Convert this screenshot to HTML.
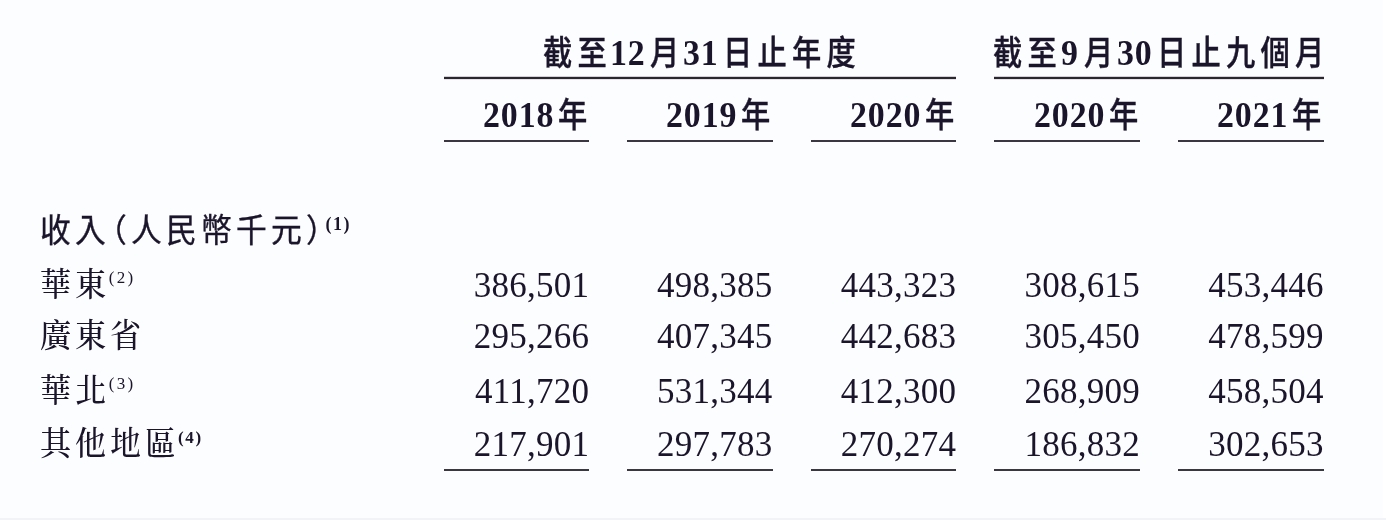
<!DOCTYPE html>
<html lang="zh-Hant"><head><meta charset="utf-8"><title>收入</title>
<style>
html,body{margin:0;padding:0}
body{width:1386px;height:520px;overflow:hidden;background:#fcfdff;position:relative;color:#1b152b}
.ln{position:absolute;filter:blur(0.25px)}
.t{position:absolute;white-space:nowrap;line-height:60px;height:60px;margin-top:-40px;transform-origin:0 0;filter:blur(0.45px)}
  .hc{font:500 34px/60px "Liberation Sans","Noto Sans CJK TC","Noto Sans CJK SC",sans-serif;transform:scaleX(0.86);letter-spacing:6.1px;margin-top:-44px;-webkit-text-stroke:0.4px #1b152b}
.hd{font:bold 36px/60px "Liberation Serif",serif;margin-top:-43.5px;transform:scaleX(0.94);letter-spacing:1px}
.lh{font:400 32.4px/60px "Liberation Sans","Noto Sans CJK TC","Noto Sans CJK SC",sans-serif;transform:scaleX(0.95);letter-spacing:4.45px;margin-top:-44px;-webkit-text-stroke:0.35px #1b152b}
.lc{font:500 33.5px/60px "Liberation Serif","Noto Serif CJK TC","Noto Serif CJK SC",serif;transform:scaleX(0.93);letter-spacing:4.1px;margin-top:-40.8px}
.n{font:400 35px/60px "Liberation Serif",serif;letter-spacing:0.25px}
.sup{font:400 17px/60px "Liberation Serif",serif;letter-spacing:2.3px;margin-top:-48.3px}
.supb{font:bold 18px/60px "Liberation Serif",serif;letter-spacing:1.5px;margin-top:-51px}
</style></head>
<body>
<span class="t hc" style="left:542.50px;top:66.50px;">截至</span>
<span class="t hd" style="left:609.75px;top:66.50px;">12</span>
<span class="t hc" style="left:650.30px;top:66.50px;">月</span>
<span class="t hd" style="left:682.75px;top:66.50px;">31</span>
<span class="t hc" style="left:723.00px;top:66.50px;">日止年度</span>
<span class="t hc" style="left:993.20px;top:66.50px;">截至</span>
<span class="t hd" style="left:1060.50px;top:66.50px;">9</span>
<span class="t hc" style="left:1084.00px;top:66.50px;">月</span>
<span class="t hd" style="left:1116.50px;top:66.50px;">30</span>
<span class="t hc" style="left:1156.80px;top:66.50px;">日止九個月</span>
<div class="ln" style="left:443.50px;top:76.00px;width:512.80px;height:4px;background:linear-gradient(rgba(43,38,48,.2) 0 25%,rgb(43,38,48) 25% 75%,rgba(43,38,48,.12) 75% 100%)"></div>
<div class="ln" style="left:994.20px;top:76.00px;width:329.60px;height:4px;background:linear-gradient(rgba(43,38,48,.2) 0 25%,rgb(43,38,48) 25% 75%,rgba(43,38,48,.12) 75% 100%)"></div>
<span class="t hd" style="right:827.30px;top:128.50px;">2018</span>
<span class="t hc" style="left:557.80px;top:128.50px;">年</span>
<div class="ln" style="left:443.50px;top:139.70px;width:145.70px;height:2px;background:#3b3742"></div>
<span class="t hd" style="right:643.90px;top:128.50px;">2019</span>
<span class="t hc" style="left:741.20px;top:128.50px;">年</span>
<div class="ln" style="left:627.20px;top:139.70px;width:145.40px;height:2px;background:#3b3742"></div>
<span class="t hd" style="right:460.20px;top:128.50px;">2020</span>
<span class="t hc" style="left:924.90px;top:128.50px;">年</span>
<div class="ln" style="left:810.50px;top:139.70px;width:145.80px;height:2px;background:#3b3742"></div>
<span class="t hd" style="right:276.50px;top:128.50px;">2020</span>
<span class="t hc" style="left:1108.60px;top:128.50px;">年</span>
<div class="ln" style="left:994.20px;top:139.70px;width:145.80px;height:2px;background:#3b3742"></div>
<span class="t hd" style="right:92.70px;top:128.50px;">2021</span>
<span class="t hc" style="left:1292.40px;top:128.50px;">年</span>
<div class="ln" style="left:1178.20px;top:139.70px;width:145.60px;height:2px;background:#3b3742"></div>
<span class="t lh" style="left:40.20px;top:244.50px;">收入</span>
<span class="t lh" style="left:95.50px;top:244.50px;">（</span>
<span class="t lh" style="left:131.00px;top:244.50px;">人民幣千元</span>
<span class="t lh" style="left:306.00px;top:244.50px;">）</span>
<span class="t supb" style="left:325.50px;top:244.50px;">(1)</span>
<span class="t lc" style="left:39.80px;top:296.00px;">華東</span>
<span class="t sup" style="left:108.80px;top:296.00px;">(2)</span>
<span class="t lc" style="left:39.80px;top:347.20px;">廣東省</span>
<span class="t lc" style="left:39.80px;top:402.20px;">華北</span>
<span class="t sup" style="left:108.80px;top:402.20px;">(3)</span>
<span class="t lc" style="left:39.80px;top:454.60px;">其他地區</span>
<span class="t sup" style="left:178.00px;top:454.60px;font-weight:bold;margin-top:-46.5px;letter-spacing:1.7px">(4)</span>
<span class="t n" style="right:796.80px;top:296.00px;">386,501</span>
<span class="t n" style="right:613.40px;top:296.00px;">498,385</span>
<span class="t n" style="right:429.70px;top:296.00px;">443,323</span>
<span class="t n" style="right:246.00px;top:296.00px;">308,615</span>
<span class="t n" style="right:62.20px;top:296.00px;">453,446</span>
<span class="t n" style="right:796.80px;top:347.20px;">295,266</span>
<span class="t n" style="right:613.40px;top:347.20px;">407,345</span>
<span class="t n" style="right:429.70px;top:347.20px;">442,683</span>
<span class="t n" style="right:246.00px;top:347.20px;">305,450</span>
<span class="t n" style="right:62.20px;top:347.20px;">478,599</span>
<span class="t n" style="right:796.80px;top:402.20px;">411,720</span>
<span class="t n" style="right:613.40px;top:402.20px;">531,344</span>
<span class="t n" style="right:429.70px;top:402.20px;">412,300</span>
<span class="t n" style="right:246.00px;top:402.20px;">268,909</span>
<span class="t n" style="right:62.20px;top:402.20px;">458,504</span>
<span class="t n" style="right:796.80px;top:454.60px;">217,901</span>
<span class="t n" style="right:613.40px;top:454.60px;">297,783</span>
<span class="t n" style="right:429.70px;top:454.60px;">270,274</span>
<span class="t n" style="right:246.00px;top:454.60px;">186,832</span>
<span class="t n" style="right:62.20px;top:454.60px;">302,653</span>
<div class="ln" style="left:443.50px;top:468.50px;width:145.70px;height:2px;background:#3b3742"></div>
<div class="ln" style="left:627.20px;top:468.50px;width:145.40px;height:2px;background:#3b3742"></div>
<div class="ln" style="left:810.50px;top:468.50px;width:145.80px;height:2px;background:#3b3742"></div>
<div class="ln" style="left:994.20px;top:468.50px;width:145.80px;height:2px;background:#3b3742"></div>
<div class="ln" style="left:1178.20px;top:468.50px;width:145.60px;height:2px;background:#3b3742"></div>
<div class="ln" style="left:0;top:518px;width:1386px;height:2px;background:#f2f3f6"></div>
<div class="ln" style="left:1383px;top:0;width:3px;height:518px;background:#ffffff"></div>
</body></html>
